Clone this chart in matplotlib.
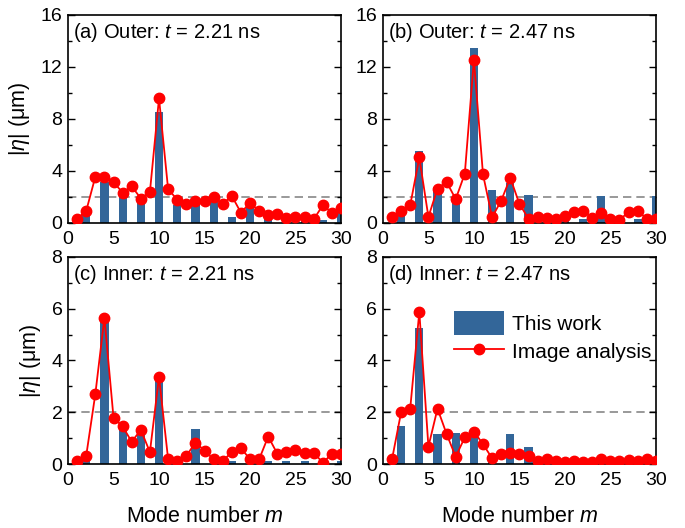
import numpy as np
import matplotlib
matplotlib.use("Agg")
import matplotlib.pyplot as plt
from matplotlib.ticker import MultipleLocator

plt.rcParams["font.family"] = ["Liberation Sans", "DejaVu Sans"]
plt.rcParams["mathtext.fontset"] = "custom"
plt.rcParams["mathtext.rm"] = "Liberation Sans"
plt.rcParams["mathtext.it"] = "Liberation Sans:italic"
plt.rcParams["font.size"] = 14


# mode numbers
m_img = np.arange(1, 31)
m_bar = np.arange(2, 31, 2)

# This work (bars, even modes)
bar_a = [0.7, 3.15, 2.05, 1.75, 8.5, 1.4, 1.6, 1.8, 0.45, 1.5, 0.3, 0.3, 0.3, 0.2, 0.85]
bar_b = [1.1, 5.5, 2.8, 1.9, 13.45, 2.55, 3.05, 2.15, 0.3, 0.5, 0.3, 2.05, 0.2, 0.3, 2.1]
bar_c = [0.2, 5.55, 1.38, 1.2, 3.25, 0.1, 1.37, 0.1, 0.1, 0.1, 0.1, 0.1, 0.1, 0.05, 0.1]
bar_d = [1.48, 5.26, 1.16, 1.21, 1.08, 0.1, 1.16, 0.67, 0.1, 0.1, 0.1, 0.1, 0.1, 0.1, 0.28]

# Image analysis (points, all modes)
img_a = [0.33, 0.93, 3.55, 3.5, 3.14, 2.34, 2.83, 1.88, 2.39, 9.59,
         2.6, 1.8, 1.44, 1.67, 1.72, 2.0, 1.47, 2.08, 0.8, 1.54,
         0.93, 0.59, 0.67, 0.39, 0.46, 0.46, 0.28, 1.36, 0.8, 1.16]
img_b = [0.46, 0.95, 1.36, 5.04, 0.46, 2.65, 3.16, 1.83, 3.8, 12.54,
         3.73, 0.44, 1.72, 3.47, 1.47, 0.33, 0.46, 0.36, 0.28, 0.51,
         0.85, 0.93, 0.41, 0.8, 0.33, 0.21, 0.87, 0.93, 0.33, 0.33]
img_c = [0.13, 0.32, 2.7, 5.65, 1.79, 1.45, 0.86, 1.32, 0.46, 3.37,
         0.19, 0.12, 0.31, 0.83, 0.52, 0.18, 0.13, 0.45, 0.61, 0.19,
         0.18, 1.06, 0.4, 0.48, 0.54, 0.44, 0.44, 0.05, 0.39, 0.39]
img_d = [0.18, 2.0, 2.14, 5.88, 0.67, 2.14, 1.16, 0.28, 1.03, 1.25,
         0.77, 0.22, 0.39, 0.41, 0.39, 0.32, 0.13, 0.19, 0.13, 0.09,
         0.12, 0.09, 0.08, 0.19, 0.13, 0.1, 0.15, 0.1, 0.19, 0.13]

titles = ["(a) Outer: $t$ = 2.21 ns", "(b) Outer: $t$ = 2.47 ns",
          "(c) Inner: $t$ = 2.21 ns", "(d) Inner: $t$ = 2.47 ns"]
threshold = 2.0

bar_color = "#336699"
red = "#FF0000"

fig = plt.figure(figsize=(6.85, 5.28), dpi=100)
boxes = [
    [0.0993, 0.5777, 0.3985, 0.3939],
    [0.559, 0.5777, 0.3985, 0.3939],
    [0.0993, 0.1212, 0.3985, 0.3921],
    [0.559, 0.1212, 0.3985, 0.3921],
]
bars = [bar_a, bar_b, bar_c, bar_d]
imgs = [img_a, img_b, img_c, img_d]

for i in range(4):
    ax = fig.add_axes(boxes[i])
    ax.axhline(threshold, color="#888888", lw=1.2, ls=(0, (5, 3)), zorder=1)
    hb = ax.bar(m_bar, bars[i], width=0.9, color=bar_color, zorder=2)
    hl, = ax.plot(m_img, imgs[i], "-o", color=red, lw=1.3, ms=7.5, zorder=3)
    ax.set_xlim(0, 30)
    ax.xaxis.set_major_locator(MultipleLocator(5))
    if i < 2:
        ax.set_ylim(0, 16)
        ax.yaxis.set_major_locator(MultipleLocator(4))
        ax.yaxis.set_minor_locator(MultipleLocator(2))
    else:
        ax.set_ylim(0, 8)
        ax.yaxis.set_major_locator(MultipleLocator(2))
        ax.yaxis.set_minor_locator(MultipleLocator(1))
        ax.set_xlabel("Mode number $m$", fontsize=15.5, labelpad=12)
    if i % 2 == 0:
        ax.set_ylabel("|$\\eta$| (μm)", fontsize=15.5, labelpad=6)
    ax.tick_params(axis="x", length=0, pad=6, labelsize=14)
    ax.tick_params(axis="y", which="major", direction="in", length=5,
                   width=1, right=True, labelsize=14, pad=4)
    ax.tick_params(axis="y", which="minor", direction="in", length=3,
                   width=1, right=True)
    for sp in ax.spines.values():
        sp.set_linewidth(1.2)
    ax.text(0.02, 0.97, titles[i], transform=ax.transAxes, ha="left",
            va="top", fontsize=14.5)
    if i == 3:
        ax.legend([hb, hl], ["This work", "Image analysis"],
                  loc="upper left", bbox_to_anchor=(0.23, 0.78),
                  frameon=False, handlelength=2.4, handleheight=1.4,
                  fontsize=15, labelspacing=0.2, handletextpad=0.4,
                  borderaxespad=0)

fig.savefig("out.png", dpi=100)
